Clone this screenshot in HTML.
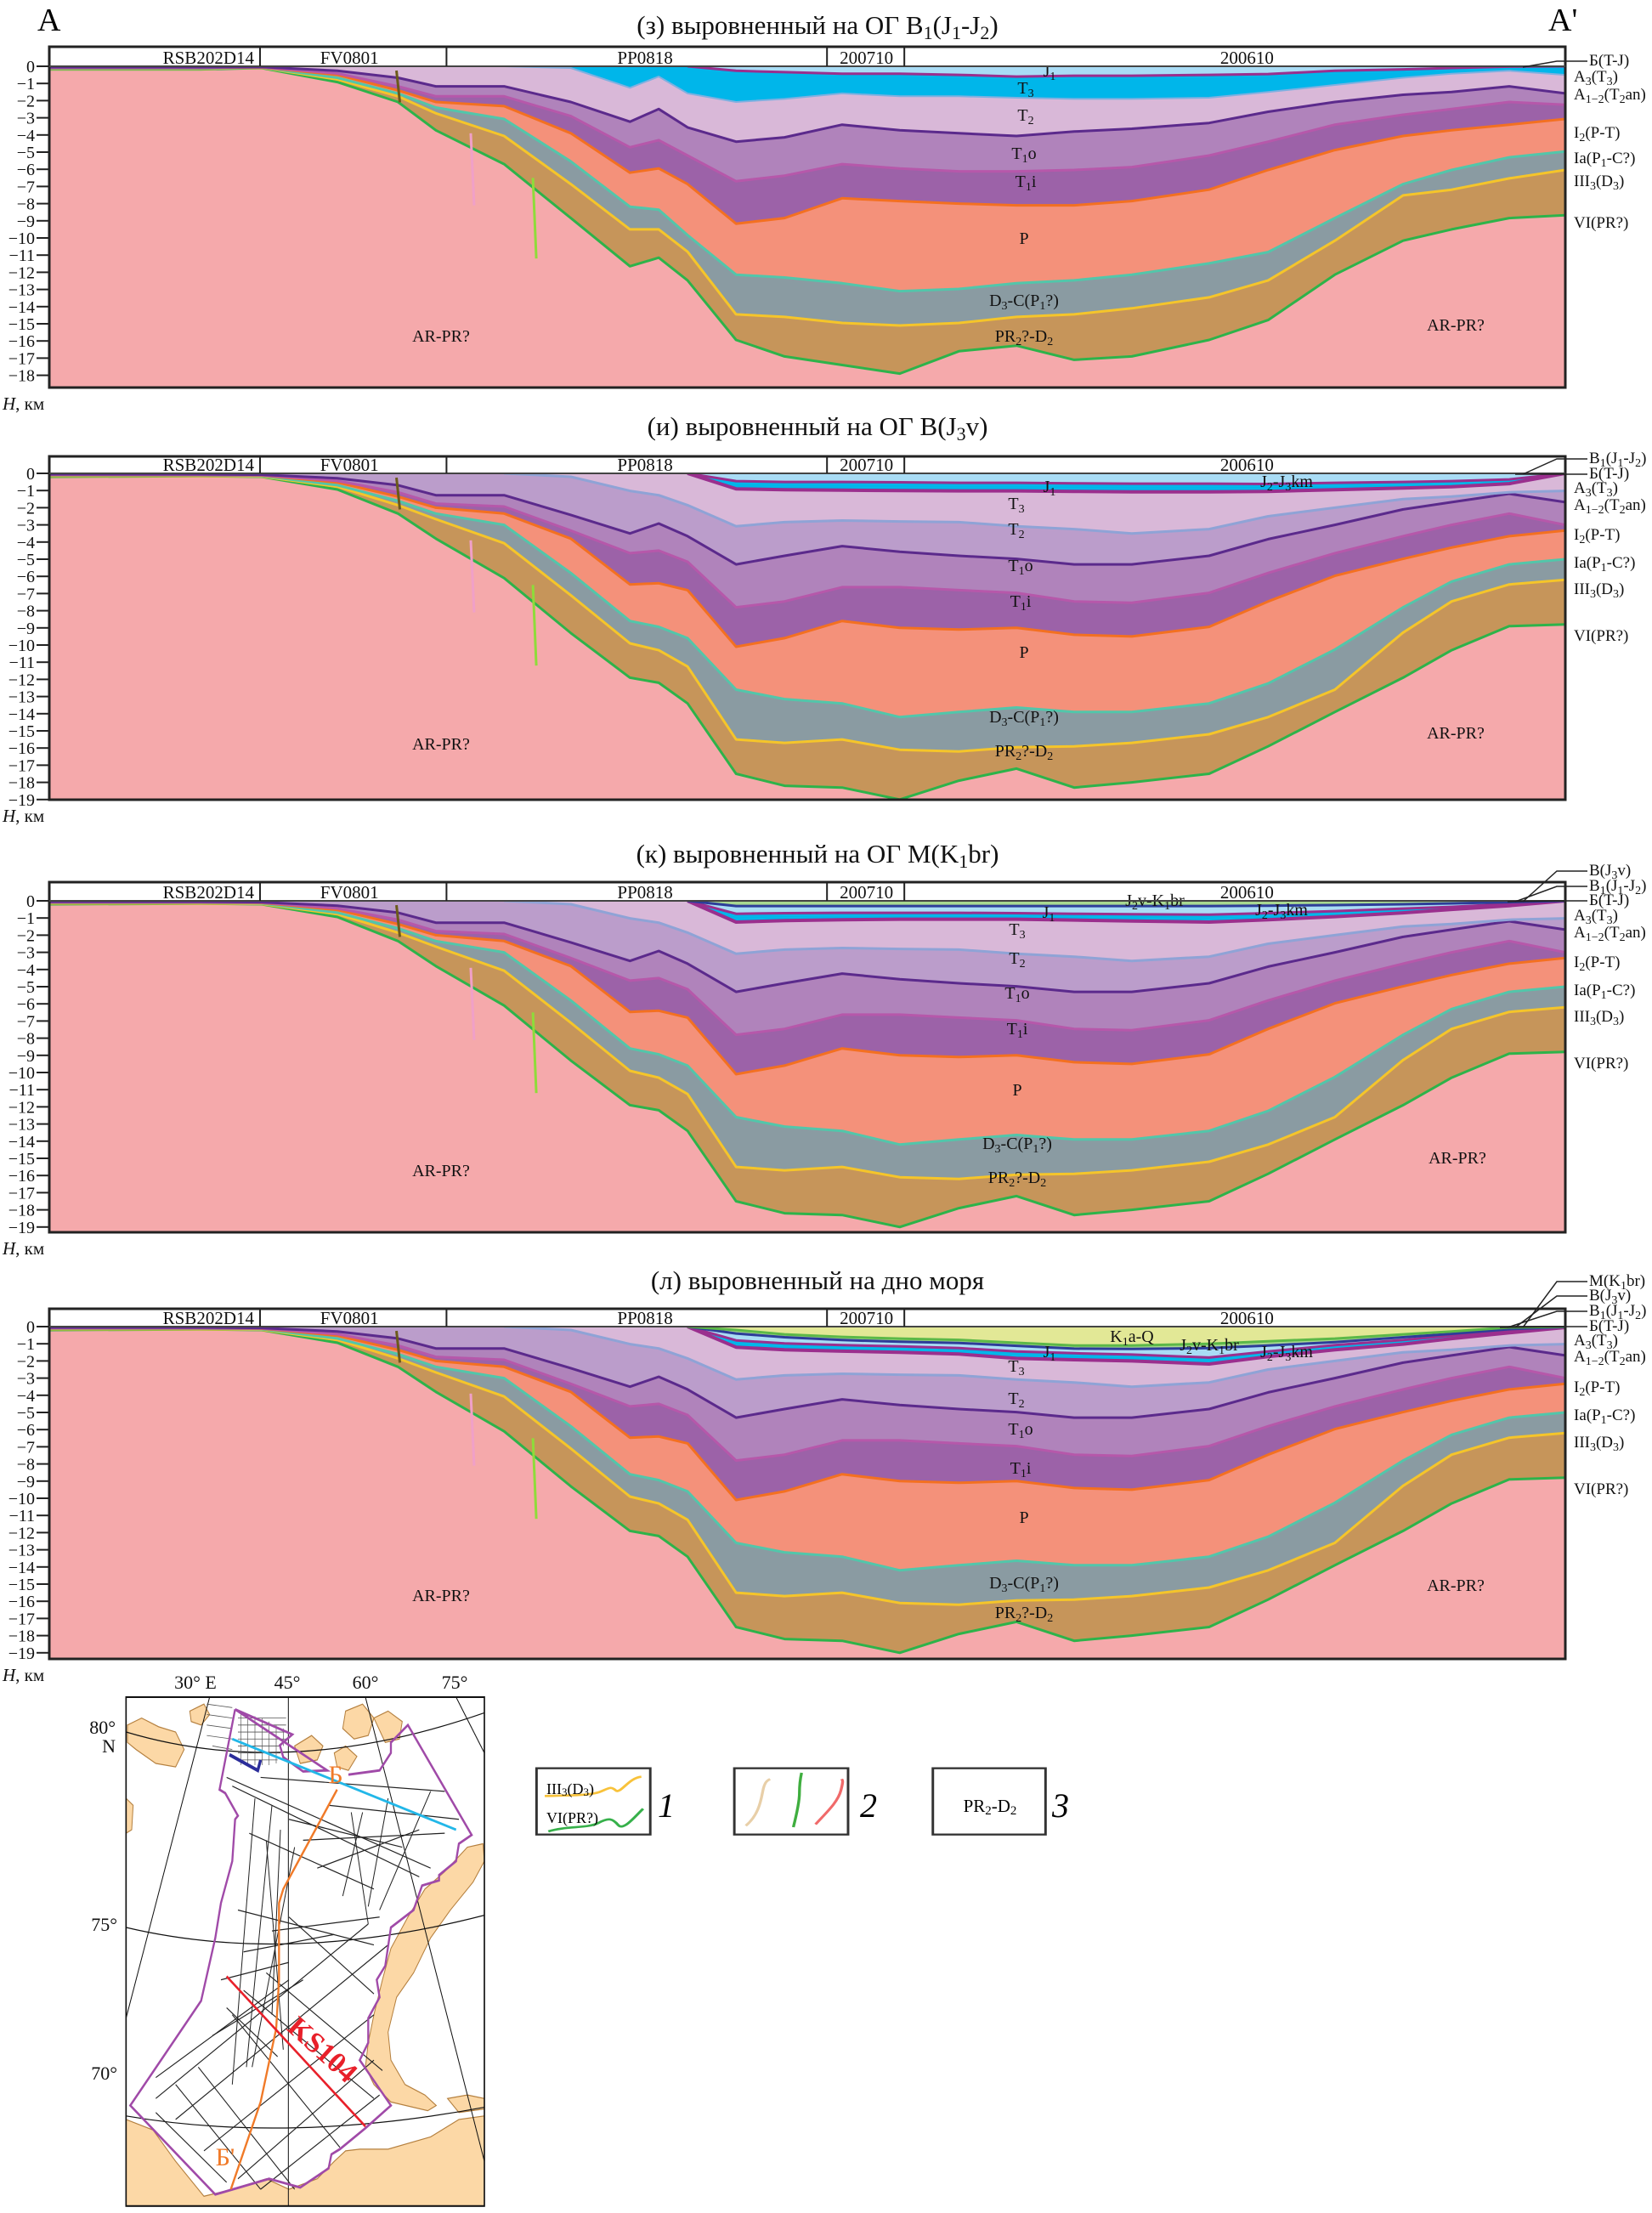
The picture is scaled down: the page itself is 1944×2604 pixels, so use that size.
<!DOCTYPE html>
<html><head><meta charset="utf-8"><title>Сейсмогеологические разрезы</title>
<style>
html,body{margin:0;padding:0;background:#fff;}
svg{display:block;font-family:"Liberation Serif","DejaVu Serif",serif;}
</style></head>
<body>
<svg id="fig" width="1944" height="2604" viewBox="0 0 1944 2604" xmlns="http://www.w3.org/2000/svg">
<rect x="0" y="0" width="1944" height="2604" fill="#fff"/>
<text x="44" y="36" font-size="38">A</text>
<text x="1822" y="36" font-size="38">A'</text>
<g id="panels"></g>

<!-- Map -->
<g>
<svg x="140" y="1960" width="440" height="644" viewBox="0 0 1320 1568" preserveAspectRatio="none">
 <rect x="25" y="90" width="1265" height="1458" fill="#fff"/>
 <g fill="#fcd8a6" stroke="#b5803f" stroke-width="3">
  <polygon points="1230,520 1285,510 1290,560 1250,620 1170,700 1100,780 1040,880 980,950 950,1050 960,1130 1010,1200 1080,1230 1120,1260 1090,1275 960,1250 900,1200 870,1150 880,1080 900,1000 930,900 960,810 1020,720 1080,640 1150,590"/>
  <polygon points="25,1300 120,1330 200,1420 300,1520 400,1500 520,1470 600,1500 700,1470 760,1420 800,1390 850,1385 950,1385 1100,1350 1200,1300 1290,1290 1290,1548 25,1548"/>
  <polygon points="30,170 80,150 140,175 200,190 230,240 200,290 130,280 60,240 30,220"/>
  <polygon points="800,130 860,110 900,150 880,200 830,210 790,180"/>
  <polygon points="900,150 950,130 1000,160 990,210 940,220"/>
  <polygon points="620,230 680,200 720,230 700,270 640,280"/>
  <polygon points="760,250 800,230 840,260 810,300 770,290"/>
  <polygon points="25,380 50,400 45,470 25,480"/>
  <polygon points="250,130 300,110 320,140 290,170 255,160"/>
  <polygon points="1160,1240 1230,1230 1290,1240 1290,1270 1200,1280"/>
 </g>
 <g fill="none" stroke="#111" stroke-width="3">
  <path d="M25,190 Q600,330 1290,135"/>
  <path d="M25,750 Q600,860 1290,715"/>
  <path d="M25,1290 Q600,1370 1290,1265"/>
  <line x1="320" y1="90" x2="25" y2="1010"/>
  <line x1="598" y1="90" x2="598" y2="1548"/>
  <line x1="870" y1="90" x2="1290" y2="1420"/>
  <line x1="1190" y1="90" x2="1290" y2="250"/>
 </g>
 <g stroke="#555" stroke-width="2">
  <line x1="420" y1="150" x2="590" y2="150"/><line x1="420" y1="170" x2="590" y2="170"/><line x1="420" y1="190" x2="590" y2="190"/><line x1="420" y1="210" x2="590" y2="210"/><line x1="420" y1="230" x2="570" y2="230"/><line x1="420" y1="250" x2="570" y2="250"/><line x1="420" y1="270" x2="560" y2="270"/>
  <line x1="430" y1="140" x2="430" y2="285"/><line x1="455" y1="140" x2="455" y2="285"/><line x1="480" y1="145" x2="480" y2="285"/><line x1="505" y1="150" x2="505" y2="285"/><line x1="530" y1="160" x2="530" y2="285"/><line x1="555" y1="170" x2="555" y2="280"/><line x1="580" y1="180" x2="580" y2="230"/>
  <line x1="310" y1="110" x2="400" y2="120"/><line x1="310" y1="140" x2="400" y2="150"/><line x1="310" y1="170" x2="400" y2="180"/><line x1="310" y1="200" x2="400" y2="210"/><line x1="330" y1="230" x2="400" y2="240"/>
 </g>
 <polyline points="390,255 490,300 500,270" fill="none" stroke="#2b2d9a" stroke-width="10"/>
 <g stroke="#222" stroke-width="3" fill="none">
  <line x1="380" y1="320" x2="1100" y2="580"/><line x1="400" y1="345" x2="1060" y2="605"/><line x1="460" y1="480" x2="900" y2="640"/>
  <line x1="600" y1="440" x2="1000" y2="520"/><line x1="500" y1="320" x2="1150" y2="360"/><line x1="740" y1="400" x2="1200" y2="440"/>
  <line x1="650" y1="500" x2="1150" y2="480"/><line x1="700" y1="580" x2="1060" y2="470"/><line x1="820" y1="420" x2="880" y2="740"/>
  <line x1="860" y1="420" x2="790" y2="660"/><line x1="950" y1="380" x2="880" y2="690"/><line x1="1100" y1="360" x2="920" y2="700"/>
  <line x1="420" y1="700" x2="900" y2="800"/><line x1="440" y1="820" x2="760" y2="770"/><line x1="540" y1="760" x2="920" y2="720"/>
  <line x1="130" y1="1240" x2="880" y2="740"/><line x1="200" y1="1300" x2="950" y2="800"/><line x1="300" y1="1390" x2="900" y2="1000"/>
  <line x1="420" y1="1470" x2="900" y2="1130"/><line x1="130" y1="1180" x2="600" y2="900"/><line x1="500" y1="1500" x2="920" y2="1230"/>
  <line x1="280" y1="1150" x2="620" y2="1500"/><line x1="200" y1="1200" x2="500" y2="1500"/><line x1="400" y1="1000" x2="780" y2="1380"/>
  <line x1="440" y1="930" x2="900" y2="1240"/><line x1="520" y1="880" x2="930" y2="1160"/><line x1="130" y1="1280" x2="380" y2="1480"/>
  <line x1="600" y1="720" x2="900" y2="940"/><line x1="480" y1="380" x2="400" y2="1200"/><line x1="540" y1="400" x2="450" y2="1150"/>
  <line x1="570" y1="470" x2="540" y2="1000"/><line x1="620" y1="520" x2="470" y2="1150"/><line x1="520" y1="500" x2="580" y2="1100"/>
  <line x1="380" y1="980" x2="560" y2="1120"/><line x1="360" y1="900" x2="600" y2="850"/><line x1="330" y1="1060" x2="650" y2="900"/>
 </g>
 <polygon points="410,125 612,197 568,228 580,262 650,303 735,300" fill="none" stroke="#a04aa8" stroke-width="7"/>
 <polyline points="810,312 920,300 960,250 960,220 1020,170 1245,485 1200,510 1190,560 1130,600 1130,615 1070,630 1040,700 960,750 940,860 910,900 920,950 880,1010 880,1080 850,1130 960,1260 870,1325 780,1385 750,1400 740,1440 640,1495 530,1470 340,1515 40,1260 290,960 340,780 360,680 400,560 410,440 420,430 375,365 355,355 410,125" fill="none" stroke="#a04aa8" stroke-width="7"/>
 <line x1="400" y1="210" x2="1190" y2="470" stroke="#22b7e8" stroke-width="7"/>
 <polyline points="770,355 580,640 565,680 565,900 555,1040 500,1250 395,1500" fill="none" stroke="#f07a28" stroke-width="7"/>
 <line x1="380" y1="890" x2="870" y2="1320" stroke="#e8202a" stroke-width="7"/>
 <rect x="25" y="90" width="1265" height="1458" fill="none" stroke="#111" stroke-width="5"/>
</svg>
<g font-size="22" fill="#111">
 <text x="230" y="1987" text-anchor="middle">30° E</text>
 <text x="338" y="1987" text-anchor="middle">45°</text>
 <text x="430" y="1987" text-anchor="middle">60°</text>
 <text x="535" y="1987" text-anchor="middle">75°</text>
 <text x="136" y="2040" text-anchor="end">80°</text>
 <text x="136" y="2062" text-anchor="end">N</text>
 <text x="138" y="2272" text-anchor="end">75°</text>
 <text x="138" y="2447" text-anchor="end">70°</text>
</g>
<text x="395" y="2098" font-size="30" fill="#f07a28" text-anchor="middle">Б</text>
<text x="265" y="2548" font-size="30" fill="#f07a28" text-anchor="middle">Б'</text>
<text x="0" y="0" font-size="34" font-weight="bold" fill="#e8202a" text-anchor="middle" transform="translate(372,2420) rotate(42)">KS104</text>
</g>

<!-- Legend -->
<g>
<svg x="620" y="2060" width="660" height="110" viewBox="0 0 1568 330" preserveAspectRatio="none">
 <rect x="27" y="62" width="318" height="234" fill="#fff" stroke="#333" stroke-width="7"/>
 <path d="M50,160 C120,158 180,158 205,145 S235,125 248,140 S285,95 320,92" fill="none" stroke="#f8c23a" stroke-width="8"/>
 <path d="M60,285 C110,265 170,275 200,255 S240,240 255,262 S300,235 325,205" fill="none" stroke="#36b04a" stroke-width="8"/>
 <rect x="580" y="62" width="318" height="234" fill="#fff" stroke="#333" stroke-width="7"/>
 <path d="M612,265 C650,225 655,170 660,140 S672,105 680,100" fill="none" stroke="#e8cfa8" stroke-width="8"/>
 <path d="M745,270 C755,220 762,180 762,150 S765,95 768,78" fill="none" stroke="#3fae3f" stroke-width="8"/>
 <path d="M807,260 C840,215 870,180 878,140 S882,105 880,100" fill="none" stroke="#f06a6a" stroke-width="8"/>
 <rect x="1135" y="62" width="315" height="234" fill="#fff" stroke="#333" stroke-width="7"/>
</svg>
<text x="643" y="2111" font-size="18">III<tspan font-size="13" dy="2">3</tspan><tspan dy="-2">(D</tspan><tspan font-size="13" dy="2">3</tspan><tspan dy="-2">)</tspan></text>
<text x="643" y="2145" font-size="18">VI(PR?)</text>
<text x="1165" y="2132" font-size="21" text-anchor="middle">PR<tspan font-size="15" dy="3">2</tspan><tspan dy="-3">-D</tspan><tspan font-size="15" dy="3">2</tspan></text>
<text x="784" y="2138" font-size="40" font-style="italic" text-anchor="middle">1</text>
<text x="1022" y="2138" font-size="40" font-style="italic" text-anchor="middle">2</text>
<text x="1248" y="2138" font-size="40" font-style="italic" text-anchor="middle">3</text>
</g>
</svg>

<script>
// ---- data: distance along profile (% of section length) ----
const dist = [0,10,14,19,23,25.5,30,34.4,38.3,40.2,42.1,45.3,48.5,52.3,56.1,60,63.8,67.6,71.4,76.5,80.4,84.8,89.3,92.5,96.3,100];

// Panel (з): depths in km
const p1VI   = [0.18,0.18,0.1,0.92,2.08,3.73,5.7,8.84,11.65,11.15,12.47,15.94,16.9,17.4,17.9,16.6,16.27,17.1,16.9,15.94,14.78,12.14,10.16,9.5,8.84,8.68];
const p1III3 = [0.15,0.15,0.08,0.76,1.75,2.74,4.06,6.86,9.5,9.5,10.8,14.45,14.6,14.95,15.1,14.95,14.6,14.45,14.1,13.46,12.47,10.16,7.52,7.19,6.53,6.04];
const p1Ia   = [0.13,0.13,0.07,0.67,1.58,2.4,3.07,5.54,8.18,8.35,9.83,12.14,12.3,12.64,13.1,12.97,12.64,12.47,12.14,11.48,10.82,8.84,6.86,6.04,5.3,4.96];
const p1I2   = [0.1,0.1,0.06,0.5,1.4,2.08,2.32,3.9,6.2,5.95,6.86,9.17,8.84,7.69,7.85,8.0,8.1,8.1,7.85,7.19,6.04,4.88,4.06,3.73,3.4,3.07];
const p1T1o  = [0.08,0.08,0.05,0.42,1.17,1.75,1.75,2.9,4.72,4.3,5.2,6.7,6.37,5.7,5.95,6.12,6.12,6.04,5.87,5.2,4.39,3.4,2.82,2.49,2.08,2.24];
const p1A12  = [0.05,0.05,0.04,0.26,0.67,1.17,1.17,2.08,3.23,2.49,3.56,4.39,4.14,3.4,3.73,3.9,4.06,3.8,3.64,3.3,2.65,2.08,1.66,1.5,1.17,1.58];
const p1A3   = [0,0,0,0,0,0,0,0.1,1.25,0.6,1.58,2.08,1.9,1.58,1.75,1.75,1.83,1.9,1.9,1.83,1.5,1.09,0.67,0.43,0.26,0.5];
const p1B    = [0,0,0,0,0,0,0,0,0,0,0,0.26,0.34,0.43,0.43,0.5,0.6,0.55,0.55,0.5,0.45,0.26,0.18,0.1,0.02,0];

// Panels (и),(к),(л): deep horizons, km
const dVI   = [0.2,0.16,0.2,0.94,2.34,3.8,6.1,9.3,11.9,12.2,13.4,17.5,18.2,18.3,19.0,17.9,17.2,18.3,18.0,17.5,15.9,13.9,11.9,10.3,8.9,8.8];
const dIII3 = [0.15,0.15,0.18,0.77,1.85,2.67,4.07,7.1,9.9,10.3,11.25,15.5,15.7,15.5,16.1,16.2,15.95,15.9,15.7,15.2,14.2,12.6,9.27,7.46,6.47,6.2];
const dIa   = [0.12,0.12,0.15,0.69,1.6,2.34,3.0,5.8,8.6,8.94,9.6,12.6,13.15,13.4,14.2,13.9,13.64,13.9,13.9,13.4,12.24,10.26,7.8,6.3,5.3,5.0];
const dI2   = [0.1,0.1,0.12,0.53,1.35,2.0,2.34,3.8,6.47,6.4,6.8,10.1,9.6,8.6,9.0,9.1,9.0,9.4,9.5,8.94,7.46,5.97,4.98,4.32,3.66,3.33];
const dT1o  = [0.08,0.08,0.1,0.44,1.1,1.76,1.93,3.33,4.65,4.5,5.15,7.8,7.46,6.63,6.63,6.8,6.96,7.46,7.54,6.96,5.8,4.65,3.66,3.0,2.34,3.0];
const dA12  = [0.05,0.05,0.08,0.28,0.69,1.27,1.27,2.42,3.5,2.92,3.66,5.3,4.8,4.24,4.57,4.8,4.98,5.3,5.3,4.8,3.83,3.0,2.1,1.68,1.19,1.68];
const dA3   = [0,0,0,0,0,0,0,0.2,1.02,1.27,1.85,3.08,2.84,2.75,2.8,2.84,3.08,3.25,3.5,3.25,2.5,2.0,1.5,1.35,1.1,1.02];

// Jurassic–Cretaceous units per panel, km
const p2Bb  = [0,0,0,0,0,0,0,0,0,0,0,0.9,0.95,0.98,1.0,1.02,1.02,1.05,1.08,1.08,1.05,0.95,0.85,0.78,0.6,0];
const p2Jk  = [0,0,0,0,0,0,0,0,0,0,0,0.45,0.5,0.5,0.52,0.55,0.55,0.58,0.6,0.6,0.62,0.55,0.5,0.45,0.35,0];
const p3Bb  = [0,0,0,0,0,0,0,0,0,0,0,1.24,1.15,1.1,1.07,1.07,1.07,1.12,1.18,1.24,1.1,0.92,0.7,0.5,0.28,0];
const p3Jk  = [0,0,0,0,0,0,0,0,0,0,0,0.75,0.72,0.7,0.7,0.7,0.72,0.75,0.78,0.8,0.72,0.6,0.45,0.35,0.18,0];
const p3Jv  = [0,0,0,0,0,0,0,0,0,0,0,0.3,0.3,0.3,0.3,0.3,0.3,0.3,0.3,0.3,0.28,0.25,0.2,0.15,0.08,0];
const p4Bb  = [0,0,0,0,0,0,0,0,0,0,0,1.2,1.35,1.43,1.5,1.6,1.85,1.93,2.0,2.18,1.75,1.35,1.02,0.7,0.36,0.05];
const p4Jk  = [0,0,0,0,0,0,0,0,0,0,0,0.8,0.98,1.08,1.15,1.25,1.45,1.55,1.63,1.8,1.45,1.08,0.78,0.52,0.24,0.03];
const p4Jv  = [0,0,0,0,0,0,0,0,0,0,0,0.4,0.62,0.78,0.88,0.95,1.12,1.28,1.3,1.25,1.1,0.9,0.62,0.42,0.15,0.02];
const p4Kq  = [0,0,0,0,0,0,0,0,0,0,0,0.2,0.45,0.6,0.7,0.77,0.94,1.1,1.1,1.0,0.85,0.7,0.45,0.28,0.05,0];

const segNames = ["RSB202D14","FV0801","PP0818","200710","200610"];
const segEdges = [0,13.9,26.2,51.3,56.4,100];
const segLabelPos = [10.5,19.8,39.3,53.9,79.0];

const NS = "http://www.w3.org/2000/svg";
const X0 = 58, X1 = 1842, KM = 20.2;
function xs(u){ return X0 + u/100*(X1-X0); }
function mk(tag, attrs, parent){
  const e = document.createElementNS(NS, tag);
  for (const k in attrs) e.setAttribute(k, attrs[k]);
  if (parent) parent.appendChild(e);
  return e;
}
// text with "_x" or "_{xx}" subscripts
function rich(parent, str, x, y, size, anchor){
  const t = mk("text", {x:x, y:y, "font-size":size, "text-anchor":anchor||"start", fill:"#111"}, parent);
  let i = 0, sub = false;
  while (i < str.length){
    let chunk, isSub = false;
    if (str[i] === "_"){
      isSub = true;
      if (str[i+1] === "{"){ const j = str.indexOf("}", i); chunk = str.slice(i+2, j); i = j+1; }
      else { chunk = str[i+1]; i += 2; }
    } else {
      let j = i; while (j < str.length && str[j] !== "_") j++;
      chunk = str.slice(i, j); i = j;
    }
    const ts = mk("tspan", {}, t);
    if (isSub && !sub){ ts.setAttribute("font-size", Math.round(size*0.72)); ts.setAttribute("dy", Math.round(size*0.2)); sub = true; }
    else if (!isSub && sub){ ts.setAttribute("dy", -Math.round(size*0.2)); sub = false; }
    else if (isSub) ts.setAttribute("font-size", Math.round(size*0.72));
    ts.textContent = chunk;
  }
  return t;
}

const C = {ar:"#f5a9ab", pr:"#c6955a", dc:"#8a9ba2", p:"#f4917a", t1i:"#9c62a8", t1o:"#b083bb",
           t2:"#bb9dcb", t3:"#d9b8d8", blue:"#00b6ea", lblue:"#a9dcf5", jv:"#a8d890", kq:"#e2e896"};
const L = {vi:"#2db34a", iii:"#f5c52a", ia:"#52c6aa", i2:"#f37021", t1o:"#b658aa", a12:"#5b2a8c", a3:"#8fa3d6", b:"#9a2f8e", jv:"#2d3d99", kq:"#5cb848"};

const panels = [
 {key:"z", top:55, zero:78, bottom:456, nt:18, titleY:40,
  title:"(з) выровненный на ОГ B_1(J_1-J_2)",
  fills:[[p1VI,C.pr,"pr2-d2"],[p1III3,C.dc,"d3-c"],[p1Ia,C.p,"p"],[p1I2,C.t1i,"t1i"],[p1T1o,C.t1o,"t1o"],[p1A12,C.t3,"t2"],[p1A3,C.blue,"t3"],[p1B,C.lblue,"j1"]],
  lines:[[p1VI,L.vi,3],[p1III3,L.iii,3],[p1Ia,L.ia,3],[p1I2,L.i2,3],[p1T1o,L.t1o,3],[p1A12,L.a12,3],[p1A3,"#7fb0e0",2],[p1B,L.b,3]],
  labels:[["J_1",1235,90],["T_3",1207,110],["T_2",1207,142],["T_1o",1205,187],["T_1i",1207,220],["P",1205,287],["D_3-C(P_1?)",1205,360],["PR_2?-D_2",1205,402],["AR-PR?",519,402],["AR-PR?",1713,389]],
  right:[["Б(T-J)",71,true],["A_3(T_3)",90],["A_{1−2}(T_2an)",111],["I_2(P-T)",156],["Ia(P_1-C?)",186],["III_3(D_3)",213],["VI(PR?)",262]]},
 {key:"i", top:537, zero:557, bottom:941, nt:19, titleY:512,
  title:"(и) выровненный на ОГ B(J_3v)",
  fills:[[dVI,C.pr,"pr2-d2"],[dIII3,C.dc,"d3-c"],[dIa,C.p,"p"],[dI2,C.t1i,"t1i"],[dT1o,C.t1o,"t1o"],[dA12,C.t2,"t2"],[dA3,C.t3,"t3"],[p2Bb,C.blue,"j1"],[p2Jk,C.lblue,"j2-j3km"]],
  lines:[[dVI,L.vi,3],[dIII3,L.iii,3],[dIa,L.ia,3],[dI2,L.i2,3],[dT1o,L.t1o,3],[dA12,L.a12,3],[dA3,L.a3,3],[p2Bb,L.b,4],[p2Jk,L.b,3]],
  labels:[["J_1",1235,579],["J_2-J_3km",1514,573],["T_3",1196,599],["T_2",1196,629],["T_1o",1201,672],["T_1i",1201,714],["P",1205,774],["D_3-C(P_1?)",1205,850],["PR_2?-D_2",1205,890],["AR-PR?",519,882],["AR-PR?",1713,869]],
  right:[["B_1(J_1-J_2)",539,true],["Б(T-J)",557,true],["A_3(T_3)",574],["A_{1−2}(T_2an)",594],["I_2(P-T)",629],["Ia(P_1-C?)",662],["III_3(D_3)",693],["VI(PR?)",748]]},
 {key:"k", top:1038, zero:1060, bottom:1450, nt:19, titleY:1015,
  title:"(к) выровненный на ОГ M(K_1br)",
  fills:[[dVI,C.pr,"pr2-d2"],[dIII3,C.dc,"d3-c"],[dIa,C.p,"p"],[dI2,C.t1i,"t1i"],[dT1o,C.t1o,"t1o"],[dA12,C.t2,"t2"],[dA3,C.t3,"t3"],[p3Bb,C.blue,"j1"],[p3Jk,C.lblue,"j2-j3km"],[p3Jv,C.jv,"j2v-k1br"]],
  lines:[[dVI,L.vi,3],[dIII3,L.iii,3],[dIa,L.ia,3],[dI2,L.i2,3],[dT1o,L.t1o,3],[dA12,L.a12,3],[dA3,L.a3,3],[p3Bb,L.b,4],[p3Jk,L.b,3],[p3Jv,L.jv,3]],
  labels:[["J_2v-K_1br",1359,1066],["J_2-J_3km",1508,1077],["J_1",1234,1080],["T_3",1197,1100],["T_2",1197,1134],["T_1o",1197,1175],["T_1i",1197,1217],["P",1197,1289],["D_3-C(P_1?)",1197,1352],["PR_2?-D_2",1197,1392],["AR-PR?",519,1384],["AR-PR?",1715,1369]],
  right:[["B(J_3v)",1024,true],["B_1(J_1-J_2)",1042,true],["Б(T-J)",1059,true],["A_3(T_3)",1077],["A_{1−2}(T_2an)",1097],["I_2(P-T)",1132],["Ia(P_1-C?)",1165],["III_3(D_3)",1196],["VI(PR?)",1251]]},
 {key:"l", top:1540, zero:1561, bottom:1952, nt:19, titleY:1517,
  title:"(л) выровненный на дно моря",
  fills:[[dVI,C.pr,"pr2-d2"],[dIII3,C.dc,"d3-c"],[dIa,C.p,"p"],[dI2,C.t1i,"t1i"],[dT1o,C.t1o,"t1o"],[dA12,C.t2,"t2"],[dA3,C.t3,"t3"],[p4Bb,C.blue,"j1"],[p4Jk,C.lblue,"j2-j3km"],[p4Jv,C.jv,"j2v-k1br"],[p4Kq,C.kq,"k1a-q"]],
  lines:[[dVI,L.vi,3],[dIII3,L.iii,3],[dIa,L.ia,3],[dI2,L.i2,3],[dT1o,L.t1o,3],[dA12,L.a12,3],[dA3,L.a3,3],[p4Bb,L.b,4],[p4Jk,L.b,3],[p4Jv,L.jv,3],[p4Kq,L.kq,3]],
  labels:[["K_1a-Q",1332,1579],["J_2v-K_1br",1423,1589],["J_2-J_3km",1514,1597],["J_1",1235,1597],["T_3",1196,1614],["T_2",1196,1652],["T_1o",1201,1688],["T_1i",1201,1734],["P",1205,1792],["D_3-C(P_1?)",1205,1869],["PR_2?-D_2",1205,1904],["AR-PR?",519,1884],["AR-PR?",1713,1872]],
  right:[["M(K_1br)",1507,true],["B(J_3v)",1524,true],["B_1(J_1-J_2)",1542,true],["Б(T-J)",1560,true],["A_3(T_3)",1577],["A_{1−2}(T_2an)",1596],["I_2(P-T)",1632],["Ia(P_1-C?)",1665],["III_3(D_3)",1697],["VI(PR?)",1752]]}
];

const faults = [[22.9,0.25,2.1,"#6b5a1a"],[27.8,3.9,8.1,"#f0a0c8"],[31.9,6.5,11.2,"#8edc3a"]];

const root = document.getElementById("panels");
const defs = mk("defs", {}, root);

panels.forEach(function(pn){
  const g = mk("g", {}, root);
  
  
  const yd = function(d){ return pn.zero + d*KM; };

  // title
  const tt = rich(g, pn.title, 962, pn.titleY, 31, "middle");
  
  

  // clip
  const cp = mk("clipPath", {id:"clip-"+pn.key}, defs);
  mk("rect", {x:X0, y:pn.zero, width:X1-X0, height:pn.bottom-pn.zero}, cp);

  const plot = mk("g", {"clip-path":"url(#clip-"+pn.key+")"}, g);
  
  
  const bg = mk("rect", {x:X0, y:pn.zero, width:X1-X0, height:pn.bottom-pn.zero, fill:C.ar}, plot);
  
  

  pn.fills.forEach(function(f){
    const arr = f[0];
    let pts = xs(0)+","+pn.zero;
    for (let i=0;i<dist.length;i++) pts += " " + xs(dist[i]).toFixed(1) + "," + yd(arr[i]).toFixed(1);
    pts += " " + xs(100)+","+pn.zero;
    const poly = mk("polygon", {points:pts, fill:f[1]}, plot);
    
    
  });
  pn.lines.forEach(function(l){
    const arr = l[0];
    let pts = "";
    for (let i=0;i<dist.length;i++){
      if (arr[i] <= 0 && (i===dist.length-1 || arr[i+1] <= 0) && (i===0 || arr[i-1] <= 0)) continue;
      pts += xs(dist[i]).toFixed(1) + "," + yd(arr[i]).toFixed(1) + " ";
    }
    if (!pts) return;
    const pl = mk("polyline", {points:pts.trim(), fill:"none", stroke:l[1], "stroke-width":l[2], "stroke-linejoin":"round"}, plot);
    
    
  });
  faults.forEach(function(fl){
    const ln = mk("line", {x1:xs(fl[0]), y1:yd(fl[1]), x2:xs(fl[0])+4, y2:yd(fl[2]), stroke:fl[3], "stroke-width":3}, plot);
    
    
  });

  // layer labels
  pn.labels.forEach(function(lb){
    const t = rich(g, lb[0], lb[1], lb[2], 20, "middle");
    
    
  });

  // frame & header
  const fr = mk("rect", {x:X0, y:pn.top, width:X1-X0, height:pn.bottom-pn.top, fill:"none", stroke:"#222", "stroke-width":3}, g);
  
  
  const hl = mk("line", {x1:X0, y1:pn.zero, x2:X1, y2:pn.zero, stroke:"#444", "stroke-width":2}, g);
  
  
  for (let s=1;s<segEdges.length-1;s++){
    const dv = mk("line", {x1:xs(segEdges[s]), y1:pn.top, x2:xs(segEdges[s]), y2:pn.zero, stroke:"#222", "stroke-width":2}, g);
    
    
  }
  segNames.forEach(function(nm, s){
    const t = mk("text", {x:xs(segLabelPos[s]), y:pn.zero-3, "font-size":21, "text-anchor":"middle", fill:"#111"}, g);
    
    
    t.textContent = nm;
  });

  // y axis
  for (let k=0;k<=pn.nt;k++){
    const y = pn.zero + k*KM;
    const tk = mk("line", {x1:43, y1:y, x2:X0, y2:y, stroke:"#222", "stroke-width":2}, g);
    
    
    const tl = mk("text", {x:41, y:y+7, "font-size":20, "text-anchor":"end", fill:"#111"}, g);
    
    
    tl.textContent = k===0 ? "0" : "−" + k;
  }
  const ht = mk("text", {x:3, y:pn.bottom+26, "font-size":21, fill:"#111"}, g);
  
  
  const h1 = mk("tspan", {"font-style":"italic"}, ht); h1.textContent = "H";
  const h2 = mk("tspan", {}, ht); h2.textContent = ", км";

  // right-hand horizon labels
  let li = 0;
  pn.right.forEach(function(r){
    if (r[2]){
      const sx = 1792 - li*9;
      const ld = mk("polyline", {points: sx+","+(pn.zero+1)+" 1832,"+(r[1]+1)+" 1868,"+(r[1]+1), fill:"none", stroke:"#222", "stroke-width":1.5}, g);
      
      
      li++;
    }
    const t = rich(g, r[0], r[2] ? 1870 : 1852, r[1]+6, 19, "start");
    
    
  });
});
</script>
</body></html>
